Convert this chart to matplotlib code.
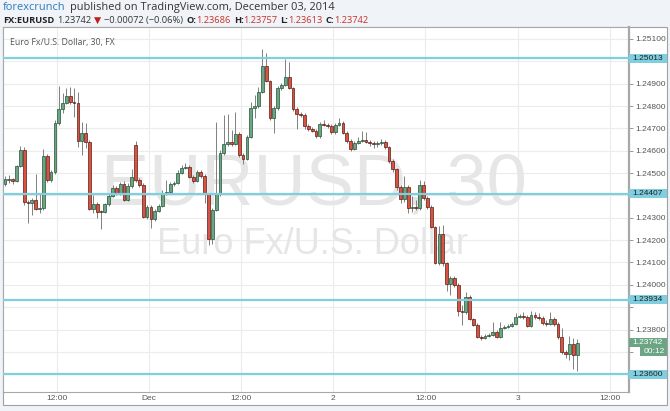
import matplotlib
matplotlib.use("Agg")
import matplotlib.pyplot as plt
from matplotlib.patches import Rectangle
from matplotlib.transforms import blended_transform_factory

# EUR/USD 30 min candles, Nov 28 - Dec 3 2014
opens = [1.24452, 1.24470, 1.24474, 1.24465, 1.24532, 1.24604, 1.24371, 1.24367, 1.24380, 1.24340,
         1.24345, 1.24577, 1.24470, 1.24505, 1.24725, 1.24787, 1.24814, 1.24845, 1.24818, 1.24814,
         1.24644, 1.24680, 1.24640, 1.24340, 1.24362, 1.24331, 1.24327, 1.24362, 1.24398, 1.24434,
         1.24412, 1.24452, 1.24380, 1.24443, 1.24626, 1.24470, 1.24447, 1.24304, 1.24349, 1.24295,
         1.24331, 1.24354, 1.24412, 1.24416, 1.24452, 1.24456, 1.24501, 1.24523, 1.24528, 1.24483,
         1.24465, 1.24505, 1.24488, 1.24407, 1.24206, 1.24336, 1.24407, 1.24590, 1.24631, 1.24640,
         1.24631, 1.24675, 1.24581, 1.24564, 1.24662, 1.24792, 1.24800, 1.24863, 1.24979, 1.24912,
         1.24747, 1.24792, 1.24881, 1.24894, 1.24930, 1.24881, 1.24787, 1.24765, 1.24760, 1.24711,
         1.24698, 1.24689, 1.24666, 1.24720, 1.24716, 1.24711, 1.24684, 1.24716, 1.24725, 1.24680,
         1.24644, 1.24608, 1.24635, 1.24644, 1.24648, 1.24640, 1.24635, 1.24631, 1.24635, 1.24640,
         1.24617, 1.24555, 1.24519, 1.24438, 1.24385, 1.24438, 1.24345, 1.24349, 1.24345, 1.24447,
         1.24389, 1.24349, 1.24260, 1.24099, 1.24228, 1.24099, 1.24005, 1.24032, 1.24000, 1.23884,
         1.23880, 1.23947, 1.23848, 1.23822, 1.23768, 1.23763, 1.23772, 1.23777, 1.23790, 1.23768,
         1.23808, 1.23813, 1.23817, 1.23826, 1.23857, 1.23862, 1.23857, 1.23817, 1.23866, 1.23857,
         1.23853, 1.23830, 1.23826, 1.23848, 1.23826, 1.23768, 1.23701, 1.23692, 1.23737, 1.23686]
highs = [1.24488, 1.24492, 1.24479, 1.24537, 1.24622, 1.24617, 1.24380, 1.24389, 1.24497, 1.24412,
         1.24608, 1.24586, 1.24514, 1.24738, 1.24890, 1.24859, 1.24881, 1.24885, 1.24881, 1.24863,
         1.24729, 1.24725, 1.24648, 1.24403, 1.24371, 1.24336, 1.24367, 1.24412, 1.24447, 1.24443,
         1.24461, 1.24465, 1.24456, 1.24519, 1.24644, 1.24479, 1.24456, 1.24358, 1.24358, 1.24340,
         1.24362, 1.24425, 1.24470, 1.24461, 1.24465, 1.24514, 1.24537, 1.24546, 1.24537, 1.24492,
         1.24514, 1.24514, 1.24497, 1.24412, 1.24345, 1.24729, 1.24604, 1.24760, 1.24765, 1.24693,
         1.24774, 1.24684, 1.24590, 1.24671, 1.24818, 1.24850, 1.24885, 1.25055, 1.25037, 1.24917,
         1.24800, 1.24890, 1.24903, 1.25011, 1.24997, 1.24885, 1.24796, 1.24774, 1.24769, 1.24720,
         1.24707, 1.24698, 1.24729, 1.24738, 1.24725, 1.24720, 1.24725, 1.24747, 1.24733, 1.24689,
         1.24653, 1.24644, 1.24662, 1.24689, 1.24684, 1.24648, 1.24644, 1.24644, 1.24653, 1.24648,
         1.24622, 1.24564, 1.24523, 1.24447, 1.24488, 1.24447, 1.24398, 1.24380, 1.24470, 1.24465,
         1.24398, 1.24358, 1.24264, 1.24264, 1.24269, 1.24103, 1.24041, 1.24041, 1.24009, 1.23911,
         1.23969, 1.23956, 1.23853, 1.23830, 1.23777, 1.23781, 1.23786, 1.23835, 1.23799, 1.23835,
         1.23822, 1.23826, 1.23835, 1.23875, 1.23871, 1.23880, 1.23866, 1.23884, 1.23880, 1.23875,
         1.23862, 1.23844, 1.23880, 1.23857, 1.23835, 1.23808, 1.23710, 1.23772, 1.23763, 1.23757]
lows = [1.24443, 1.24456, 1.24452, 1.24461, 1.24528, 1.24358, 1.24278, 1.24313, 1.24336, 1.24322,
        1.24336, 1.24461, 1.24461, 1.24497, 1.24716, 1.24769, 1.24809, 1.24809, 1.24751, 1.24617,
        1.24581, 1.24613, 1.24336, 1.24322, 1.24300, 1.24251, 1.24322, 1.24354, 1.24394, 1.24403,
        1.24403, 1.24376, 1.24376, 1.24434, 1.24461, 1.24438, 1.24300, 1.24295, 1.24255, 1.24286,
        1.24327, 1.24349, 1.24403, 1.24407, 1.24443, 1.24452, 1.24497, 1.24519, 1.24479, 1.24456,
        1.24461, 1.24479, 1.24367, 1.24179, 1.24184, 1.24331, 1.24398, 1.24581, 1.24622, 1.24622,
        1.24626, 1.24573, 1.24541, 1.24559, 1.24657, 1.24747, 1.24792, 1.24859, 1.24908, 1.24738,
        1.24680, 1.24783, 1.24872, 1.24890, 1.24876, 1.24778, 1.24698, 1.24751, 1.24698, 1.24689,
        1.24684, 1.24657, 1.24657, 1.24711, 1.24702, 1.24675, 1.24675, 1.24711, 1.24675, 1.24635,
        1.24599, 1.24604, 1.24631, 1.24640, 1.24635, 1.24622, 1.24613, 1.24617, 1.24626, 1.24608,
        1.24546, 1.24505, 1.24425, 1.24367, 1.24371, 1.24322, 1.24327, 1.24336, 1.24336, 1.24380,
        1.24340, 1.24255, 1.24094, 1.24090, 1.24085, 1.23974, 1.23956, 1.23991, 1.23862, 1.23822,
        1.23871, 1.23844, 1.23817, 1.23763, 1.23755, 1.23759, 1.23768, 1.23772, 1.23763, 1.23763,
        1.23804, 1.23808, 1.23813, 1.23822, 1.23853, 1.23848, 1.23813, 1.23813, 1.23848, 1.23844,
        1.23822, 1.23817, 1.23822, 1.23817, 1.23759, 1.23692, 1.23674, 1.23665, 1.23625, 1.23613]
closes = [1.24474, 1.24474, 1.24465, 1.24532, 1.24604, 1.24371, 1.24367, 1.24380, 1.24340, 1.24345,
          1.24577, 1.24470, 1.24505, 1.24725, 1.24787, 1.24814, 1.24845, 1.24818, 1.24814, 1.24644,
          1.24680, 1.24640, 1.24340, 1.24362, 1.24327, 1.24327, 1.24362, 1.24398, 1.24434, 1.24412,
          1.24452, 1.24380, 1.24443, 1.24483, 1.24470, 1.24447, 1.24304, 1.24349, 1.24295, 1.24331,
          1.24354, 1.24412, 1.24416, 1.24452, 1.24456, 1.24501, 1.24523, 1.24528, 1.24483, 1.24465,
          1.24505, 1.24488, 1.24407, 1.24206, 1.24336, 1.24407, 1.24590, 1.24631, 1.24640, 1.24631,
          1.24675, 1.24581, 1.24564, 1.24662, 1.24792, 1.24800, 1.24863, 1.24979, 1.24912, 1.24747,
          1.24792, 1.24881, 1.24894, 1.24930, 1.24881, 1.24787, 1.24765, 1.24760, 1.24711, 1.24698,
          1.24689, 1.24666, 1.24720, 1.24716, 1.24711, 1.24684, 1.24716, 1.24725, 1.24680, 1.24644,
          1.24608, 1.24635, 1.24644, 1.24648, 1.24640, 1.24635, 1.24631, 1.24635, 1.24640, 1.24617,
          1.24555, 1.24519, 1.24438, 1.24385, 1.24438, 1.24345, 1.24349, 1.24345, 1.24447, 1.24389,
          1.24349, 1.24260, 1.24099, 1.24228, 1.24099, 1.24005, 1.24032, 1.24000, 1.23884, 1.23880,
          1.23947, 1.23848, 1.23822, 1.23768, 1.23763, 1.23772, 1.23777, 1.23790, 1.23768, 1.23808,
          1.23813, 1.23817, 1.23826, 1.23857, 1.23862, 1.23857, 1.23817, 1.23866, 1.23857, 1.23853,
          1.23830, 1.23826, 1.23848, 1.23826, 1.23768, 1.23701, 1.23692, 1.23737, 1.23686, 1.23742]

levels = [1.25013, 1.24407, 1.23934, 1.23600]
price_ticks = [1.236, 1.237, 1.238, 1.239, 1.240, 1.241, 1.242, 1.243,
               1.244, 1.245, 1.246, 1.247, 1.248, 1.249, 1.250, 1.251]
time_ticks = [13.5, 37.5, 61.5, 85.5, 109.5, 133.5, 157.5]
time_labels = ["12:00", "Dec", "12:00", "2", "12:00", "3", "12:00"]
last_price = 1.23742
countdown = "00:12"

UP, UP_EDGE = "#6ba583", "#225437"
DOWN, DOWN_EDGE = "#d75442", "#5b1a13"
LEVEL = "#80cfe0"
FONT = ["Liberation Sans", "DejaVu Sans"]

W, H = 670, 411
fig = plt.figure(figsize=(W / 100, H / 100), dpi=100, facecolor="#f0f3f7")

# white chart frame
fig.add_artist(Rectangle((3 / W, 1 - 405 / H), 664 / W, 378 / H, transform=fig.transFigure,
                         facecolor="white", edgecolor="#a0a0a0", lw=0.8, zorder=0))

ax = fig.add_axes([3 / W, 1 - 392 / H, 626 / W, 365 / H])
ax.set_xlim(-0.52, 162.5)
ax.set_ylim(1.2352058, 1.2515369)
ax.set_facecolor("white")
for side in ["top", "left", "bottom"]:
    ax.spines[side].set_color("#a8a8a8")
    ax.spines[side].set_linewidth(0.8)
ax.spines["right"].set_color("#a8a8a8")
ax.spines["right"].set_linewidth(1.6)

ax.set_axisbelow(True)
ax.grid(color="#ececec", lw=0.8)
ax.set_xticks(time_ticks)
ax.set_xticklabels(time_labels)
ax.set_yticks(price_ticks)
# labels hidden behind the coloured price tags are left out
covered = levels + [last_price]
ax.set_yticklabels(["" if min(abs(t - c) for c in covered) < 0.00045 else f"{t:.5f}"
                    for t in price_ticks])
ax.yaxis.tick_right()
ax.tick_params(axis="y", length=3, width=0.6, color="#888888", labelsize=6, labelcolor="#555555", pad=1.5)
ax.tick_params(axis="x", length=0, labelsize=6, labelcolor="#555555", pad=2.5)
for lab in ax.get_xticklabels() + ax.get_yticklabels():
    lab.set_family(FONT)

# watermark
ax.text(0.497, 0.564, "EURUSD, 30", transform=ax.transAxes, ha="center", va="center",
        fontsize=52, family=FONT, color="#e6e6e6", zorder=1)
ax.text(0.494, 0.403, "Euro Fx/U.S. Dollar", transform=ax.transAxes, ha="center", va="center",
        fontsize=26, family=FONT, color="#e6e6e6", zorder=1)
ax.text(0.011, 0.958, "Euro Fx/U.S. Dollar, 30, FX", transform=ax.transAxes, ha="left", va="center",
        fontsize=6.3, family=["Open Sans", "DejaVu Sans"], color="#555555", zorder=6)

# candles
xs = list(range(len(closes)))
ax.vlines(xs, lows, highs, color="#808080", lw=0.7, zorder=2)
for i in xs:
    o, c = opens[i], closes[i]
    up = c >= o
    h = max(abs(c - o), 0.00002)
    ax.bar(i, h, bottom=min(o, c), width=0.72, color=UP if up else DOWN,
           edgecolor=UP_EDGE if up else DOWN_EDGE, lw=0.5, zorder=3)

# horizontal levels with price tags on the axis
tr = blended_transform_factory(ax.transAxes, ax.transData)
box_w = 38 / 626
for lv in levels:
    ax.axhline(lv, color=LEVEL, lw=1.6, zorder=4)
    ax.add_patch(Rectangle((1.0, lv - 0.0002), box_w, 0.0004, transform=tr, clip_on=False,
                           facecolor=LEVEL, edgecolor="none", zorder=5))
    ax.text(1.006, lv, f"{lv:.5f}", transform=tr, ha="left", va="center", fontsize=6,
            family=FONT, color="#1e1e1e", clip_on=False, zorder=6)

ax.add_patch(Rectangle((1.0, last_price - 0.0002), box_w, 0.0004, transform=tr, clip_on=False,
                       facecolor=UP, edgecolor="none", zorder=5))
ax.text(1.006, last_price, f"{last_price:.5f}", transform=tr, ha="left", va="center", fontsize=6,
        family=FONT, color="white", clip_on=False, zorder=6)
ax.add_patch(Rectangle((1.0 + 11 / 626, last_price - 0.0006), 27 / 626, 0.0004, transform=tr,
                       clip_on=False, facecolor=UP, edgecolor="none", zorder=5))
ax.text(1.0 + 15 / 626, last_price - 0.0004, countdown, transform=tr, ha="left", va="center",
        fontsize=6, family=FONT, color="white", clip_on=False, zorder=6)

# header lines
renderer = fig.canvas.get_renderer()


def text_row(y, pieces, size):
    x = 3
    for s, color, weight, gap in pieces:
        t = fig.text(x / W, 1 - y / H, s, color=color, fontsize=size, fontweight=weight,
                     family=["Open Sans", "DejaVu Sans"], ha="left", va="center")
        x += t.get_window_extent(renderer).width + gap


RED = "#c8322b"
DARK = "#333333"
text_row(7.5, [("forexcrunch", "#2b7bbb", "normal", 4),
               ("published on TradingView.com, December 03, 2014", DARK, "normal", 0)], 7.9)
text_row(20.5, [("FX:EURUSD", "#222222", "bold", 3),
                ("1.23742", DARK, "normal", 3),
                ("\u25bc", "#c0201b", "normal", 2),
                ("\u22120.00072 (\u22120.06%)", DARK, "normal", 4),
                ("O:", "#222222", "bold", 0), ("1.23686", RED, "normal", 3),
                ("H:", "#222222", "bold", 0), ("1.23757", RED, "normal", 3),
                ("L:", "#222222", "bold", 0), ("1.23613", RED, "normal", 3),
                ("C:", "#222222", "bold", 0), ("1.23742", RED, "normal", 0)], 6.7)

fig.savefig("out.png", dpi=100, facecolor=fig.get_facecolor())
